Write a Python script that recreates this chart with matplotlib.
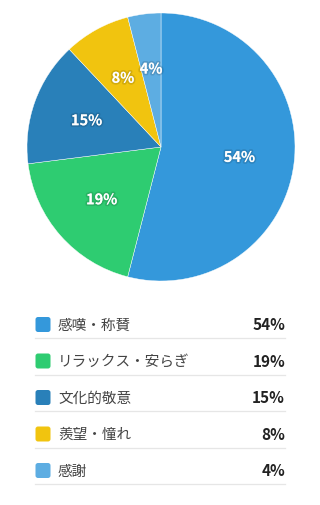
import matplotlib
matplotlib.use("Agg")
import matplotlib.pyplot as plt
import matplotlib.patheffects as pe
from matplotlib.patches import FancyBboxPatch

plt.rcParams["font.family"] = ["Noto Sans CJK JP", "DejaVu Sans"]

categories = ["感嘆・称賛", "リラックス・安らぎ", "文化的敬意", "羨望・憧れ", "感謝"]
values = [54, 19, 15, 8, 4]
colors = ["#3498db", "#2ecc71", "#2980b9", "#f1c40f", "#5dade2"]

W, H = 320, 506
fig = plt.figure(figsize=(W / 100, H / 100), dpi=100)

# pie: center (161,148), r 134 px
cx, cy, r = 161, 148, 134
ax = fig.add_axes([(cx - r) / W, (H - cy - r) / H, 2 * r / W, 2 * r / H])
wedges, texts = ax.pie(values, colors=colors, startangle=90, counterclock=False,
                       labels=[f"{v}%" for v in values], labeldistance=0.59,
                       wedgeprops=dict(linewidth=0.3, edgecolor="white"))
for t in texts:
    t.set_color("white")
    t.set_fontsize(10.5)
    t.set_fontweight("bold")
    t.set_ha("center")
    t.set_va("center")
    t.set_path_effects([pe.withStroke(linewidth=2.5, foreground=(0, 0, 0, 0.12))])
ax.set_xlim(-1, 1)
ax.set_ylim(-1, 1)
ax.set_aspect("equal")
ax.axis("off")

# legend drawn in pixel coordinates
lax = fig.add_axes([0, 0, 1, 1])
lax.set_xlim(0, W)
lax.set_ylim(H, 0)
lax.axis("off")
row0, step = 325.5, 36.5
for i, (cat, v, c) in enumerate(zip(categories, values, colors)):
    y = row0 + i * step
    lax.add_patch(FancyBboxPatch((35.5, y - 7.5), 15, 15, boxstyle="round,pad=0,rounding_size=2.5",
                                 facecolor=c, edgecolor="none"))
    lax.text(58, y, cat, fontsize=10.5, color="#444444", va="center", ha="left")
    lax.text(285, y, f"{v}%", fontsize=11, color="#222222", fontweight="bold",
             va="center", ha="right")
    lax.plot([35, 285], [y + 13.5, y + 13.5], color="#e6e6e6", linewidth=0.9)

fig.savefig("out.png", dpi=100)
